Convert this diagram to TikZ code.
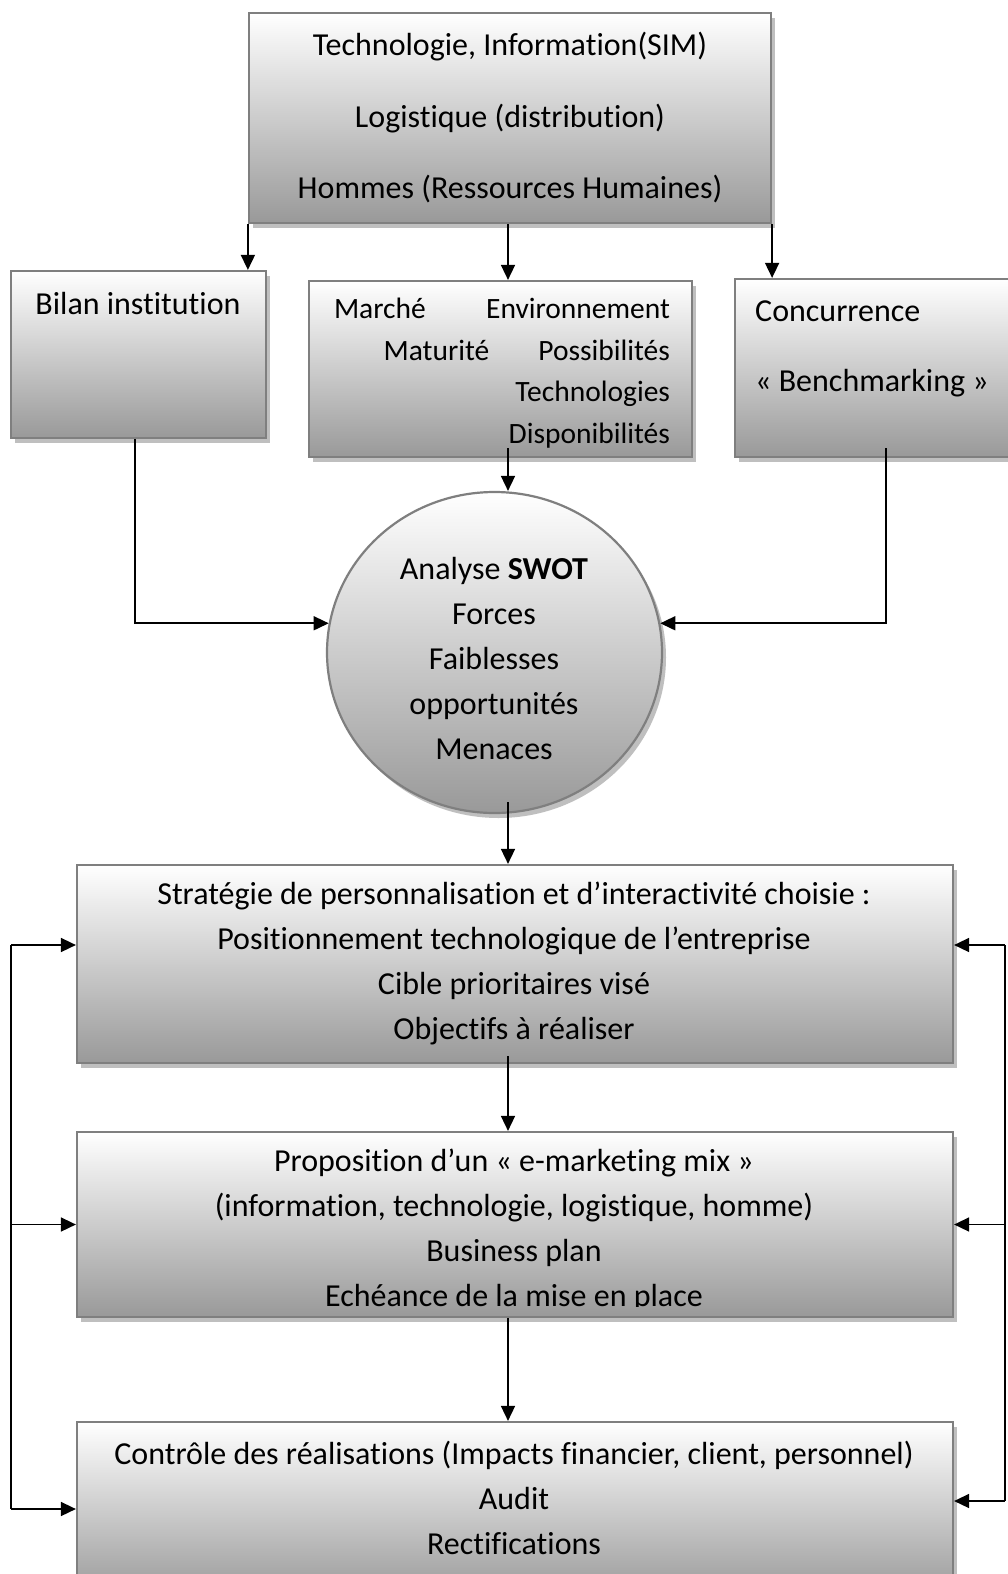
\documentclass[tikz,border=0pt]{standalone}
\usepackage{fontspec}
\setmainfont{Carlito}[Ligatures=CommonOff]
\usetikzlibrary{arrows.meta,shapes.geometric,shadows}
\definecolor{boxborder}{HTML}{7F7F7F}
\begin{document}
\begin{tikzpicture}[x=1pt,y=-1pt,
  box/.style={draw=boxborder, line width=2.2pt, shade, top color=white, bottom color=black!40,
    drop shadow={shadow xshift=4pt, shadow yshift=-5pt, fill=black!25, opacity=1}, inner sep=0pt},
  arr/.style={line width=1.6pt, -{Triangle[length=15pt,width=14pt]}},
  ln/.style={line width=1.6pt},
  txt/.style={font=\fontsize{32}{#1}\selectfont, align=center, inner sep=0pt}]
\useasboundingbox (0,0) rectangle (1008,1574);
\clip (0,0) rectangle (1008,1574);
\fill[white] (0,0) rectangle (1008,1574);

% boxes
\node[box, minimum width=522pt, minimum height=210pt] (top) at (510,118) {};
\node[box, minimum width=255pt, minimum height=167pt] (bilan) at (138.5,354.5) {};
\node[box, minimum width=383pt, minimum height=176pt] (mid) at (500.5,369) {};
\node[box, minimum width=302pt, minimum height=178pt] (conc) at (886,368) {};
\node[box, ellipse, minimum width=335pt, minimum height=321pt] (swot) at (494.5,652.5) {};
\node[box, minimum width=876pt, minimum height=198pt] (b1) at (515,964) {};
\node[box, minimum width=876pt, minimum height=185pt] (b2) at (515,1224.5) {};
\node[box, minimum width=876pt, minimum height=176pt] (b3) at (515,1510) {};

% texts
\node[txt=71.5] (ttop) at (510,118) {Technologie, Information(SIM)\\Logistique (distribution)\\Hommes (Ressources Humaines)};
\node[txt=40] (tbilan) at (138,304) {Bilan institution};
\node[font=\fontsize{29.5}{41.7}\selectfont, align=right, text width=336pt, inner sep=0pt] (tmid) at (502,373)
  {Marché\hfill Environnement\\Maturité\hspace{49pt}Possibilités\\Technologies\\Disponibilités};
\node[txt=70.5, align=left, anchor=west] (tconc) at (755,349) {Concurrence\\« Benchmarking »};
\node[txt=45] (tswot) at (494,658) {Analyse \textbf{SWOT}\\Forces\\Faiblesses\\opportunités\\Menaces};
\node[txt=45] (tb1) at (514,963.5) {Stratégie de personnalisation et d’interactivité choisie :\\Positionnement technologique de l’entreprise\\Cible prioritaires visé\\Objectifs à réaliser};
\begin{scope}
  \clip ([xshift=1.1pt,yshift=-1.1pt]b2.north west) rectangle ([xshift=-1.1pt,yshift=12pt]b2.south east);
  \node[txt=45] (tb2) at (514,1230.5) {Proposition d’un « e-marketing mix »\\(information, technologie, logistique, homme)\\Business plan\\Echéance de la mise en place};
\end{scope}
\node[txt=45] (tb3) at (514,1498) {Contrôle des réalisations (Impacts financier, client, personnel)\\Audit\\Rectifications};

% connectors
\draw[arr] (top.south west) -- (top.south west |- bilan.north);
\draw[arr] ([xshift=-2pt]top.south) -- ([xshift=-2pt]top.south |- mid.north);
\draw[arr] (top.south east) -- (top.south east |- conc.north);
\draw[arr] ([xshift=7.5pt,yshift=10pt]mid.south) -- ([xshift=13.5pt]swot.north);
\draw[arr] ([xshift=-3.5pt]bilan.south) |- (swot.170);
\draw[arr] ([yshift=10pt]conc.south) |- (swot.10);
\draw[arr] ([xshift=13.5pt,yshift=12pt]swot.south) -- ([xshift=13.5pt]swot.south |- b1.north);
\draw[arr] ([xshift=-7pt,yshift=8pt]b1.south) -- ([xshift=-7pt]b2.north);
\draw[arr] ([xshift=-7pt]b2.south) -- ([xshift=-7pt]b3.north);

% feedback loops
\coordinate (lt) at (11,945);
\coordinate (lb) at (11,1509);
\draw[ln] (lt) -- (lb);
\draw[arr] (lt) -- (lt -| b1.west);
\draw[arr] (lt |- b2.west) -- (b2.west);
\draw[arr] (lb) -- (lb -| b3.west);
\coordinate (rt) at (1005,945);
\coordinate (rb) at (1005,1501);
\draw[ln] (rt) -- (rb);
\draw[arr] (rt) -- (rt -| b1.east);
\draw[arr] (rt |- b2.east) -- (b2.east);
\draw[arr] (rb) -- (rb -| b3.east);
\end{tikzpicture}
\end{document}
